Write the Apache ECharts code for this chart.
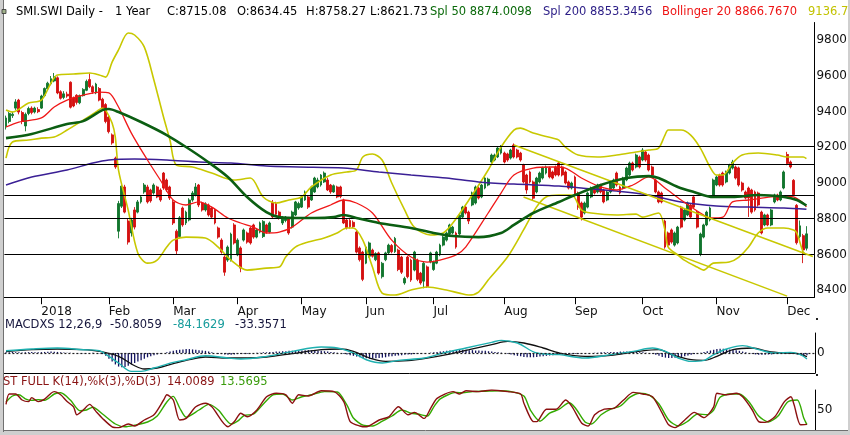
<!DOCTYPE html>
<html><head><meta charset="utf-8">
<script src="https://cdn.jsdelivr.net/npm/echarts@6/dist/echarts.min.js"></script>
<style>html,body{margin:0;padding:0;background:#fff;overflow:hidden}#c{width:850px;height:435px}</style>
</head><body><div id="c"></div>
<script>
// ---- categories / ticks ----
const categories = Array.from({length: 252}, (_, i) => String(i));
const monthIdx = [11, 32, 52, 72, 92, 112, 133, 155, 177, 198, 221, 243];
const monthLabels = ['2018', 'Feb', 'Mar', 'Apr', 'May', 'Jun', 'Jul', 'Aug', 'Sep', 'Oct', 'Nov', 'Dec'];

// ---- daily candles [open, close, low, high] ----
const ohlc = [
[9315,9365,9300,9378],[9345,9390,9335,9398],[9378,9386,9365,9400],[9420,9455,9410,9470],[9465,9398,9385,9472],
[9395,9345,9330,9405],[9320,9385,9290,9395],[9390,9418,9380,9428],[9420,9395,9385,9430],[9398,9420,9390,9428],
[9412,9400,9392,9425],[9420,9488,9415,9495],[9490,9530,9482,9536],[9528,9560,9522,9568],[9556,9585,9548,9600],
[9572,9596,9565,9617],[9590,9505,9498,9598],[9512,9475,9468,9520],[9480,9500,9470,9515],[9498,9488,9478,9512],
[9565,9425,9418,9570],[9478,9432,9425,9485],[9492,9452,9440,9498],[9450,9490,9442,9496],[9490,9525,9485,9532],
[9520,9570,9515,9580],[9580,9540,9532,9615],[9540,9510,9500,9548],[9505,9555,9498,9562],[9530,9465,9458,9538],
[9470,9420,9410,9478],[9440,9345,9335,9448],[9370,9288,9278,9378],[9270,9225,9215,9278],[9140,9090,9080,9148],
[8730,8885,8690,8900],[8870,8983,8860,9000],[8978,8837,8830,8990],[8787,8669,8655,8800],[8720,8793,8700,8805],
[8849,8753,8740,8865],[8837,8894,8830,8905],[8894,8922,8885,8932],[8950,8989,8940,9000],[8978,8894,8885,8990],
[8961,8900,8890,8968],[8944,8989,8935,8998],[8978,8922,8915,8985],[8961,8905,8895,8970],[9056,8972,8962,9062],
[9017,8961,8950,9025],[8978,8916,8905,8985],[8894,8776,8765,8905],[8730,8620,8600,8740],[8700,8805,8690,8815],
[8860,8765,8755,8868],[8776,8837,8765,8845],[8793,8905,8785,8915],[8905,8944,8895,8955],[8933,8978,8925,9000],
[8989,8877,8865,8995],[8888,8849,8840,8895],[8849,8883,8840,8892],[8877,8821,8812,8885],[8860,8809,8800,8868],
[8849,8776,8768,8858],[8748,8697,8688,8756],[8680,8613,8604,8690],[8585,8500,8480,8595],[8568,8641,8558,8650],
[8568,8714,8560,8722],[8765,8664,8655,8775],[8597,8680,8590,8690],[8636,8523,8500,8645],[8680,8737,8672,8745],
[8720,8669,8660,8728],[8748,8664,8655,8756],[8765,8697,8688,8772],[8697,8737,8690,8745],[8725,8776,8718,8784],
[8700,8785,8692,8792],[8765,8725,8716,8772],[8725,8776,8718,8784],[8890,8810,8800,8905],[8885,8825,8815,8895],
[8837,8804,8795,8845],[8776,8809,8765,8815],[8790,8809,8780,8815],[8800,8720,8710,8810],[8753,8837,8745,8845],
[8821,8894,8815,8900],[8860,8885,8850,8895],[8865,8922,8860,8930],[8905,8950,8900,8958],[8922,8865,8855,8930],
[8905,8978,8900,8985],[8950,9028,8945,9035],[8978,9017,8970,9030],[8989,9045,8980,9050],[9006,9056,9000,9065],
[9017,8961,8955,9030],[8989,8950,8940,8995],[8950,8985,8945,8992],[8978,8922,8915,8985],[8978,8925,8915,8985],
[8905,8776,8770,8912],[8793,8750,8740,8800],[8790,8755,8745,8798],[8780,8755,8748,8790],[8725,8613,8605,8735],
[8636,8570,8560,8645],[8613,8460,8450,8620],[8551,8641,8545,8648],[8590,8664,8582,8672],[8624,8590,8582,8632],
[8570,8605,8562,8612],[8608,8495,8486,8615],[8475,8550,8465,8558],[8570,8608,8562,8615],[8608,8652,8600,8660],
[8650,8615,8606,8658],[8615,8690,8608,8698],[8624,8515,8506,8632],[8585,8500,8490,8592],[8440,8465,8430,8475],
[8585,8475,8466,8592],[8568,8456,8446,8576],[8512,8613,8505,8620],[8568,8460,8450,8576],[8495,8440,8430,8502],
[8450,8550,8410,8560],[8530,8420,8412,8538],[8557,8608,8550,8615],[8515,8557,8508,8565],[8551,8613,8545,8620],
[8597,8652,8590,8660],[8652,8697,8645,8705],[8680,8720,8672,8728],[8714,8765,8706,8772],[8720,8753,8712,8760],
[8720,8641,8632,8728],[8714,8821,8706,8828],[8809,8865,8802,8872],[8865,8832,8824,8872],[8837,8787,8770,8845],
[8877,8944,8870,8952],[8888,8978,8880,8986],[8972,8916,8908,8980],[8922,8989,8915,8996],[8972,9028,8965,9035],
[8989,9022,8982,9030],[9118,9157,9110,9165],[9129,9157,9122,9165],[9146,9196,9140,9204],[9168,9202,9160,9213],
[9168,9118,9110,9176],[9163,9129,9120,9170],[9140,9185,9132,9192],[9213,9146,9138,9222],[9185,9146,9138,9192],
[9168,9129,9120,9175],[9101,9006,8998,9108],[9045,8961,8940,9052],[9062,9006,8998,9070],[9006,8915,8905,9014],
[8950,9028,8942,9035],[9006,9056,8998,9064],[9028,9084,9020,9092],[9056,9090,9048,9098],[9084,9034,9026,9092],
[9062,9028,9020,9070],[9090,9045,9037,9098],[9112,9045,9037,9120],[9090,9045,9037,9098],[9062,9000,8992,9070],
[9006,8972,8964,9014],[8972,9000,8964,9008],[9034,8933,8925,9042],[8944,8865,8850,8952],[8888,8809,8790,8896],
[8832,8888,8824,8896],[8865,8944,8858,8952],[8922,8972,8915,8980],[8972,8944,8936,8980],[8950,8989,8942,8996],
[8989,8950,8942,8996],[8961,8894,8886,8968],[8905,8950,8898,8958],[8950,9000,8942,9008],[8972,9017,8965,9025],
[9056,8989,8980,9064],[8978,8944,8936,8986],[8972,9028,8965,9035],[9017,9084,9010,9092],[9045,9112,9038,9120],
[9112,9073,9065,9120],[9090,9157,9082,9165],[9146,9090,9082,9154],[9129,9185,9122,9196],[9174,9129,9120,9182],
[9157,9073,9065,9165],[9090,9045,9037,9098],[9017,8950,8942,9025],[8950,8894,8886,8958],[8944,8894,8886,8952],
[8787,8641,8632,8795],[8720,8652,8644,8728],[8737,8669,8660,8745],[8652,8720,8644,8728],[8664,8753,8656,8760],
[8865,8753,8745,8872],[8793,8849,8785,8856],[8821,8888,8814,8896],[8877,8809,8800,8885],[8922,8865,8856,8930],
[8837,8753,8745,8845],[8600,8714,8590,8722],[8697,8765,8690,8772],[8765,8837,8758,8845],[8793,8860,8785,8868],
[8930,9017,8925,9025],[8989,9034,8982,9042],[9045,8989,8980,9052],[9056,8989,8980,9064],[9006,9062,8998,9070],
[9056,9101,9048,9108],[9084,9118,9076,9130],[9090,9028,9020,9098],[9085,8989,8980,9092],[9000,8961,8952,9008],
[8950,8916,8908,8958],[8972,8916,8810,8980],[8961,8837,8828,8968],[8950,8849,8840,8958],[8944,8877,8868,8952],
[8837,8720,8712,8845],[8765,8821,8758,8828],[8821,8765,8758,8828],[8765,8849,8758,8856],[8894,8933,8886,8940],
[8933,8905,8898,8940],[8905,8950,8898,8958],[8972,9062,8965,9070],[9160,9110,9100,9175],[9118,9090,9082,9126],
[9015,8935,8926,9022],[8875,8665,8655,8882],[8700,8760,8690,8790],[8705,8625,8551,8715],[8634.45,8715.08,8621.73,8758.27]
];

// ---- overlays: [dayIndex, value] ----
const sma50 = [[0,9252],[8,9275],[19,9331],[24,9347],[30,9409],[32,9415],[35,9398],[42,9342],[50,9269],[56,9202],[62,9129],[69,9034],[75,8922],[81,8837],[85,8809],[91,8804],[96,8804],[102,8809],[105,8821],[109,8804],[116,8776],[126,8748],[133,8720],[139,8703],[147,8697],[154,8720],[158,8765],[164,8832],[172,8894],[177,8933],[185,8989],[193,9028],[200,9039],[203,9028],[209,8978],[214,8950],[220,8922],[226,8922],[234,8933],[242,8922],[246,8905],[249,8874]];
const sma200 = [[0,8989],[8,9034],[19,9073],[27,9112],[32,9129],[40,9135],[50,9129],[60,9118],[70,9112],[81,9095],[91,9090],[105,9084],[116,9062],[126,9045],[137,9028],[147,9006],[158,8994],[172,8983],[179,8972],[190,8955],[200,8933],[210,8894],[221,8871],[231,8865],[242,8860],[249,8853]];
const bollMid = [[0,9314],[4,9342],[11,9365],[15,9426],[19,9465],[24,9493],[29,9510],[32,9505],[35,9426],[39,9280],[44,9129],[48,9017],[52,8905],[56,8877],[60,8894],[64,8865],[69,8804],[73,8776],[77,8753],[81,8720],[85,8725],[89,8753],[95,8832],[101,8877],[105,8905],[109,8888],[114,8832],[120,8680],[126,8585],[131,8557],[135,8568],[140,8597],[143,8641],[150,8832],[154,8944],[158,9045],[164,9084],[170,9090],[174,9084],[179,9028],[185,8978],[190,8961],[195,8989],[200,9034],[205,8972],[210,8905],[216,8832],[219,8804],[223,8809],[226,8894],[231,8905],[238,8922],[242,8927],[245,8922],[248,8888],[249,8867]];
const bollUp = [[0,9409],[2,9398],[7,9449],[11,9465],[14,9561],[16,9606],[21,9611],[26,9617],[29,9606],[31,9594],[33,9678],[35,9746],[38,9841],[40,9830],[43,9763],[46,9578],[49,9370],[51,9241],[53,9101],[58,9090],[64,9056],[71,9017],[76,9028],[80,8922],[84,8888],[88,8905],[92,8922],[95,8978],[101,9045],[106,9062],[109,9073],[111,9146],[114,9163],[117,9129],[120,9000],[124,8849],[127,8753],[132,8709],[136,8720],[139,8776],[144,8905],[150,9073],[154,9202],[158,9297],[160,9308],[164,9280],[170,9252],[172,9241],[174,9202],[178,9157],[184,9146],[190,9157],[196,9174],[200,9185],[203,9196],[205,9269],[206,9297],[210,9297],[213,9269],[216,9196],[219,9090],[221,9045],[223,9045],[226,9112],[229,9157],[234,9168],[240,9157],[243,9146],[246,9146],[248,9146],[249,9137]];
const bollLow = [[0,9140],[2,9230],[7,9241],[11,9252],[15,9258],[19,9297],[24,9353],[28,9398],[30,9421],[31,9409],[33,9336],[34,9258],[35,9073],[38,8849],[41,8608],[44,8551],[47,8568],[50,8641],[52,8680],[56,8697],[62,8692],[66,8641],[70,8568],[75,8512],[81,8523],[85,8529],[87,8585],[90,8641],[94,8669],[99,8692],[103,8720],[106,8748],[108,8748],[111,8680],[114,8529],[117,8383],[121,8372],[126,8400],[131,8417],[137,8400],[141,8383],[144,8372],[147,8389],[150,8456],[156,8585],[161,8737],[165,8865],[168,8922],[172,8933],[176,8933],[179,8849],[182,8832],[190,8821],[196,8826],[198,8809],[203,8832],[205,8737],[206,8641],[209,8597],[211,8568],[215,8529],[217,8512],[220,8551],[225,8557],[228,8585],[231,8641],[234,8720],[237,8748],[242,8748],[245,8737],[246,8720],[248,8613],[249,8597]];
const hLevels = [9205, 9108, 8932, 8800, 8600];
const trendA = [[158, 9213], [251, 8588]];
const trendB = [[161, 8922], [243, 8366]];

// ---- MACD panel ----
const macdHist = [10,12,15,12,10,8,10,12,14,12,10,12,15,18,20,18,15,12,8,5,2,0,-2,-5,-5,-3,0,2,0,-5,
-15,-40,-80,-120,-160,-190,-200,-195,-180,-160,-140,-120,-100,-80,-60,-45,-30,-20,-10,0,10,
20,30,40,45,50,55,55,50,45,40,35,30,20,10,0,-10,-15,-20,-25,-25,
-20,-15,-15,-10,-10,-5,0,5,5,10,10,15,15,20,20,25,25,30,30,30,
35,35,40,40,35,35,30,30,25,20,15,10,5,0,-10,-20,-30,
-40,-50,-60,-70,-75,-80,-80,-75,-70,-65,-60,-50,-45,-40,-35,-30,-25,-20,-20,-15,-15,-10,-5,0,5,10,
15,20,25,30,35,40,40,45,45,45,40,40,35,35,30,30,25,20,15,10,5,0,-10,-20,-30,-40,-45,
-55,-60,-60,-60,-55,-50,-45,-40,-35,-30,-25,-20,-20,-15,-15,-10,-10,-10,-10,-5,
-5,0,5,5,10,10,10,15,15,15,20,20,20,20,15,15,10,10,5,0,
-10,-25,-40,-55,-65,-70,-70,-65,-60,-55,-45,-35,-25,-15,-5,5,15,25,35,45,
55,60,60,55,50,45,40,30,20,10,0,-10,-20,-25,-25,-25,-20,-20,-15,-10,-10,-5,
-5,-10,-15,-20,-30,-35,-33];
const macdLine = [[0,32],[8,56],[16,70],[24,46],[29,32],[32,-47],[35,-140],[39,-257],[42,-257],[46,-210],[52,-131],[56,-94],[62,-38],[69,-70],[73,-84],[81,-47],[89,23],[98,84],[103,70],[108,0],[112,-94],[117,-140],[122,-103],[130,-70],[136,0],[143,70],[151,149],[154,177],[159,140],[165,0],[172,-23],[180,-70],[188,-23],[195,23],[201,70],[205,23],[209,-70],[213,-117],[217,-103],[220,-23],[224,56],[229,103],[234,47],[239,0],[244,9],[247,-23],[249,-84]];
const signalLine = [[0,19],[8,47],[16,56],[24,47],[29,23],[35,-47],[40,-178],[43,-224],[47,-210],[52,-150],[57,-94],[62,-56],[69,-70],[75,-70],[81,-56],[89,-9],[98,47],[104,56],[108,23],[113,-70],[118,-117],[125,-108],[130,-80],[137,-23],[144,47],[151,117],[156,163],[161,140],[167,70],[172,0],[180,-47],[188,-33],[196,19],[203,47],[207,-23],[213,-94],[217,-103],[221,-47],[226,47],[232,70],[237,23],[242,0],[246,-9],[249,-51]];

// ---- Stochastic panel ----
const stochK = [[0,64],[1,90],[3,90],[5,75],[7,71],[8,81],[10,71],[12,77],[14,92],[15,96],[17,88],[19,71],[21,58],[22,38],[24,50],[26,64],[28,46],[30,29],[33,8],[35,6],[38,15],[40,10],[43,25],[46,38],[49,75],[50,88],[52,75],[54,25],[56,29],[59,58],[62,67],[64,58],[69,8],[71,21],[73,42],[75,33],[78,50],[81,83],[84,92],[87,88],[89,67],[91,88],[94,85],[98,98],[102,96],[105,71],[107,21],[110,10],[112,8],[116,25],[119,33],[122,58],[125,38],[127,44],[130,29],[132,54],[134,79],[139,96],[141,90],[143,98],[147,96],[151,100],[156,96],[160,90],[161,67],[164,21],[165,21],[168,52],[171,52],[174,75],[176,58],[179,17],[181,10],[183,38],[186,52],[189,54],[192,75],[195,94],[198,90],[201,83],[204,42],[206,13],[208,6],[211,25],[214,44],[217,31],[220,58],[221,92],[224,88],[227,92],[229,83],[232,50],[234,21],[236,19],[239,33],[242,71],[244,83],[245,63],[247,13],[249,14]];
const stochD = [[0,70],[2,85],[4,88],[6,78],[8,74],[10,76],[12,74],[15,90],[17,93],[20,75],[23,48],[25,50],[27,57],[30,40],[34,15],[37,8],[40,12],[44,20],[47,35],[50,70],[52,84],[54,55],[56,32],[60,50],[63,64],[66,50],[70,15],[72,22],[74,36],[77,40],[80,65],[83,88],[86,90],[89,75],[92,83],[95,88],[99,96],[103,95],[106,62],[108,30],[111,12],[114,10],[117,22],[120,35],[123,50],[126,42],[128,40],[131,35],[133,58],[135,78],[140,94],[142,93],[145,96],[149,97],[153,98],[157,96],[161,85],[163,50],[166,22],[169,42],[172,52],[175,68],[177,55],[180,20],[182,15],[185,38],[188,52],[191,60],[194,82],[197,92],[200,87],[203,65],[206,25],[209,10],[212,22],[215,40],[218,38],[220,50],[222,82],[225,90],[228,90],[231,70],[234,35],[237,20],[240,35],[243,70],[246,75],[248,30],[249,13.6]];

// ---- texts ----
const headerParts = [
  ['SMI.SWI Daily -', 16, '#000000'], ['1 Year', 115, '#000000'], ['C:8715.08', 167, '#000000'],
  ['O:8634.45', 237, '#000000'], ['H:8758.27', 306, '#000000'], ['L:8621.73', 370, '#000000'],
  ['Spl 50 8874.0098', 430, '#0b6a0b'], ['Spl 200 8853.3456', 543, '#2b1d86'],
  ['Bollinger 20 8866.7670', 662, '#ee1414'], ['9136.7', 808, '#c2c200']
];
const macdParts = [['MACDXS 12,26,9', 5, '#15153c'], ['-50.8059', 110, '#15153c'], ['-84.1629', 173, '#179c9c'], ['-33.3571', 235, '#15153c']];
const stochParts = [['ST FULL K(14),%k(3),%D(3)', 3, '#8a1414'], ['14.0089', 167, '#8a1414'], ['13.5695', 220, '#3a9c0c']];

const FONT = 'DejaVu Sans';
const UP = '#11752d', DOWN = '#d41010', YEL = '#c8c800';

function textItems(parts, y) {
  return parts.map(p => ({type: 'text', x: p[1], y: y, z: 50,
    style: {text: p[0], fill: p[2], font: '11.5px "' + FONT + '"', align: 'left', verticalAlign: 'middle'}}));
}

const chart = echarts.init(document.getElementById('c'));
const hideAxis = {show: false};
const option = {
  animation: false,
  backgroundColor: '#ffffff',
  grid: [
    {left: 4.4, right: 35, top: 22.5, height: 274.7},
    {left: 4.4, right: 35, top: 333, height: 40},
    {left: 4.4, right: 35, top: 390, height: 40}
  ],
  xAxis: [
    {type: 'category', gridIndex: 0, data: categories, boundaryGap: true,
     axisLine: {show: true, onZero: false, lineStyle: {color: '#000', width: 1}},
     axisTick: {show: true, alignWithLabel: true, length: 7, interval: (i) => monthIdx.includes(i), lineStyle: {color: '#000'}},
     axisLabel: {show: true, interval: (i) => monthIdx.includes(i),
       formatter: (v) => { const k = monthIdx.indexOf(Number(v)); return k >= 0 ? monthLabels[k] : ''; },
       align: 'left', margin: 9, color: '#111', fontSize: 12, fontFamily: FONT},
     splitLine: {show: false}},
    {type: 'category', gridIndex: 1, data: categories, boundaryGap: true,
     axisLine: {show: true, onZero: false, lineStyle: {color: '#000', width: 1}},
     axisTick: hideAxis, axisLabel: hideAxis, splitLine: hideAxis},
    {type: 'category', gridIndex: 2, data: categories, boundaryGap: true,
     axisLine: {show: false, onZero: false}, axisTick: hideAxis, axisLabel: hideAxis, splitLine: hideAxis}
  ],
  yAxis: [
    {type: 'value', gridIndex: 0, position: 'right', min: 8360, max: 9900, interval: 20,
     axisLine: {show: true, lineStyle: {color: '#000', width: 1}}, axisTick: hideAxis, splitLine: hideAxis,
     axisLabel: {formatter: (v) => (Math.round(v) % 200 === 0 ? String(Math.round(v)) : ''), margin: 2, color: '#111', fontSize: 12, fontFamily: FONT}},
    {type: 'value', gridIndex: 1, position: 'right', min: -280, max: 280, interval: 280,
     axisLine: {show: true, lineStyle: {color: '#000', width: 1}}, axisTick: hideAxis, splitLine: hideAxis,
     axisLabel: {formatter: (v) => (v === 0 ? '0' : ''), margin: 2, color: '#111', fontSize: 12, fontFamily: FONT}},
    {type: 'value', gridIndex: 2, position: 'right', min: 0, max: 100, interval: 50,
     axisLine: {show: true, lineStyle: {color: '#000', width: 1}}, axisTick: hideAxis, splitLine: hideAxis,
     axisLabel: {formatter: (v) => (v === 50 ? '50' : ''), margin: 2, color: '#111', fontSize: 12, fontFamily: FONT}}
  ],
  series: [
    {type: 'candlestick', xAxisIndex: 0, yAxisIndex: 0, data: ohlc, barWidth: 2.4, z: 2,
     itemStyle: {color: UP, color0: DOWN, borderColor: UP, borderColor0: DOWN, borderWidth: 0.9},
     markLine: {silent: true, symbol: ['none', 'none'], label: {show: false}, animation: false,
       data: hLevels.map(v => ({yAxis: v, lineStyle: {color: '#000', width: 1.1, type: 'solid'}})).concat([
         [{coord: trendA[0], lineStyle: {color: YEL, width: 1.5, type: 'solid'}}, {coord: trendA[1]}],
         [{coord: trendB[0], lineStyle: {color: YEL, width: 1.5, type: 'solid'}}, {coord: trendB[1]}]
       ])}},
    {type: 'line', xAxisIndex: 0, yAxisIndex: 0, data: bollUp, showSymbol: false, smooth: 0.3, z: 3, lineStyle: {color: YEL, width: 1.6}},
    {type: 'line', xAxisIndex: 0, yAxisIndex: 0, data: bollLow, showSymbol: false, smooth: 0.3, z: 3, lineStyle: {color: YEL, width: 1.6}},
    {type: 'line', xAxisIndex: 0, yAxisIndex: 0, data: sma200, showSymbol: false, smooth: 0.3, z: 3, lineStyle: {color: '#3a1f95', width: 1.5}},
    {type: 'line', xAxisIndex: 0, yAxisIndex: 0, data: bollMid, showSymbol: false, smooth: 0.3, z: 4, lineStyle: {color: '#f01818', width: 1.3}},
    {type: 'line', xAxisIndex: 0, yAxisIndex: 0, data: sma50, showSymbol: false, smooth: 0.3, z: 5, lineStyle: {color: '#0b5e12', width: 2.6}},
    {type: 'bar', xAxisIndex: 1, yAxisIndex: 1, data: macdHist, barWidth: 1.3, itemStyle: {color: '#12125e'}, z: 2,
     markLine: {silent: true, symbol: ['none', 'none'], label: {show: false},
       data: [{yAxis: 0, lineStyle: {color: '#222', width: 1.2, type: [2, 2]}}]}},
    {type: 'line', xAxisIndex: 1, yAxisIndex: 1, data: signalLine, showSymbol: false, smooth: 0.35, z: 3, lineStyle: {color: '#111', width: 1.3}},
    {type: 'line', xAxisIndex: 1, yAxisIndex: 1, data: macdLine, showSymbol: false, smooth: 0.35, z: 4, lineStyle: {color: '#1fb0b0', width: 1.4}},
    {type: 'line', xAxisIndex: 2, yAxisIndex: 2, data: stochD, showSymbol: false, smooth: 0.25, z: 3, lineStyle: {color: '#33aa00', width: 1.4}},
    {type: 'line', xAxisIndex: 2, yAxisIndex: 2, data: stochK, showSymbol: false, smooth: 0.25, z: 4, lineStyle: {color: '#8b1010', width: 1.4}}
  ],
  graphic: [
    {type: 'rect', z: 40, shape: {x: 0, y: 0, width: 3, height: 435}, style: {fill: '#cfcfcf'}},
    {type: 'line', z: 41, shape: {x1: 3.5, y1: 0, x2: 3.5, y2: 432}, style: {stroke: '#707070', lineWidth: 1}},
    {type: 'rect', z: 40, shape: {x: 0, y: 431, width: 850, height: 4}, style: {fill: '#cfcfcf'}},
    {type: 'line', z: 41, shape: {x1: 3, y1: 430.5, x2: 848, y2: 430.5}, style: {stroke: '#707070', lineWidth: 1}},
    {type: 'rect', z: 40, shape: {x: 848, y: 0, width: 2, height: 435}, style: {fill: '#cfcfcf'}},
    {type: 'rect', z: 41, shape: {x: 2, y: 9.5, width: 4, height: 4}, style: {fill: '#9fb08a', stroke: '#333', lineWidth: 0.8}},
    {type: 'rect', z: 41, shape: {x: 816, y: 318, width: 2, height: 2}, style: {fill: '#222'}},
    {type: 'rect', z: 41, shape: {x: 816, y: 374, width: 2, height: 2}, style: {fill: '#222'}}
  ].concat(textItems(headerParts, 12), textItems(macdParts, 325), textItems(stochParts, 382))
};
chart.setOption(option);
</script></body></html>
